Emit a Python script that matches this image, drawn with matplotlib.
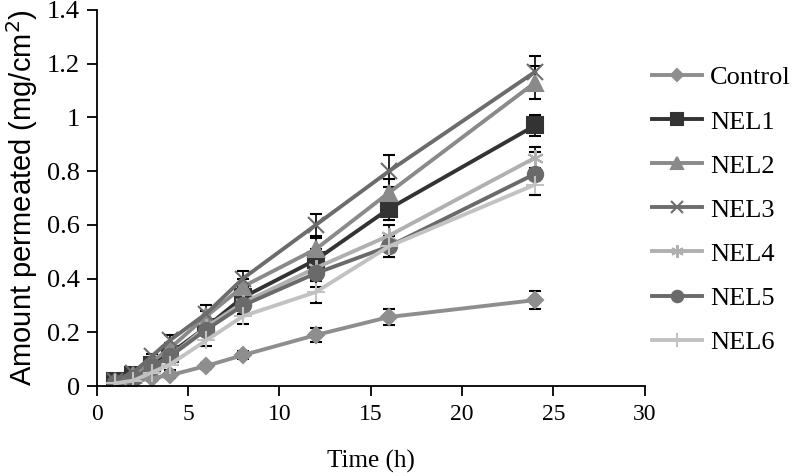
import matplotlib.pyplot as plt

plt.rcParams['font.family'] = ['Liberation Serif', 'DejaVu Serif']
plt.rcParams['font.size'] = 16

time = [1, 2, 3, 4, 6, 8, 12, 16, 24]

control = [0.01, 0.015, 0.03, 0.04, 0.075, 0.115, 0.19, 0.257, 0.32]
nel1 = [0.02, 0.04, 0.08, 0.12, 0.22, 0.33, 0.47, 0.66, 0.97]
nel2 = [0.02, 0.04, 0.09, 0.14, 0.26, 0.37, 0.51, 0.72, 1.13]
nel3 = [0.02, 0.05, 0.11, 0.17, 0.27, 0.40, 0.60, 0.80, 1.17]
nel4 = [0.01, 0.03, 0.07, 0.11, 0.22, 0.31, 0.44, 0.56, 0.85]
nel5 = [0.01, 0.03, 0.07, 0.11, 0.21, 0.30, 0.42, 0.52, 0.79]
nel6 = [0.01, 0.02, 0.05, 0.08, 0.17, 0.26, 0.35, 0.52, 0.75]

err_control = [0.005, 0.005, 0.01, 0.01, 0.01, 0.015, 0.025, 0.03, 0.035]
err_nel1 = [0.01, 0.01, 0.01, 0.02, 0.02, 0.03, 0.04, 0.04, 0.04]
err_nel2 = [0.01, 0.01, 0.01, 0.02, 0.02, 0.03, 0.04, 0.05, 0.06]
err_nel3 = [0.01, 0.01, 0.01, 0.02, 0.03, 0.03, 0.04, 0.06, 0.06]
err_nel4 = [0.01, 0.01, 0.01, 0.02, 0.02, 0.03, 0.04, 0.04, 0.04]
err_nel5 = [0.01, 0.01, 0.01, 0.02, 0.02, 0.03, 0.05, 0.04, 0.08]
err_nel6 = [0.01, 0.01, 0.01, 0.02, 0.02, 0.03, 0.04, 0.04, 0.04]

fig = plt.figure(figsize=(7.93, 4.76), dpi=100)
ax = fig.add_axes([0.122, 0.189, 0.691, 0.790])

series = [
    ('Control', control, err_control, '#8e8e8e', 'D', 8),
    ('NEL1', nel1, err_nel1, '#333333', 's', 11),
    ('NEL2', nel2, err_nel2, '#8a8a8a', '^', 11),
    ('NEL3', nel3, err_nel3, '#6c6c6c', 'x', 11),
    ('NEL4', nel4, err_nel4, '#b0b0b0', (6, 2, 0), 12),
    ('NEL5', nel5, err_nel5, '#6a6a6a', 'o', 11),
    ('NEL6', nel6, err_nel6, '#c2c2c2', '+', 13),
]

for name, y, e, c, m, ms in series:
    ax.errorbar(time, y, yerr=e, color=c, marker=m, markersize=ms, lw=2.8,
                mew=1.5, ecolor='black', elinewidth=1.2, capsize=4, capthick=1.2,
                label=name)

ax.set_xlim(0, 30)
ax.set_ylim(0, 1.4)
ax.set_xticks([0, 5, 10, 15, 20, 25, 30])
ax.set_yticks([0, 0.2, 0.4, 0.6, 0.8, 1, 1.2, 1.4])
ax.set_yticklabels(['0', '0.2', '0.4', '0.6', '0.8', '1', '1.2', '1.4'])
ax.spines['top'].set_visible(False)
ax.spines['right'].set_visible(False)
ax.spines['left'].set_linewidth(1.3)
ax.spines['bottom'].set_linewidth(1.3)
ax.tick_params(direction='out', length=7, width=1.3)
ax.tick_params(axis='x', labelsize=17, pad=6)
ax.tick_params(axis='y', labelsize=19, pad=5)
ax.set_xlabel('Time (h)', fontsize=18, labelpad=18)
ax.set_ylabel('Amount permeated (mg/cm$^2$)', fontsize=21,
              family=['Liberation Sans', 'DejaVu Sans'], labelpad=5)

handles, labels = ax.get_legend_handles_labels()
handles = [h[0] for h in handles]
leg = ax.legend(handles, labels, loc='center left', bbox_to_anchor=(0.809, 0.559),
                bbox_transform=fig.transFigure, borderaxespad=0,
                frameon=False, labelspacing=0.78, handlelength=1.9,
                handletextpad=0.3, fontsize=19, markerscale=0.75)

plt.savefig('out.png', dpi=100)
